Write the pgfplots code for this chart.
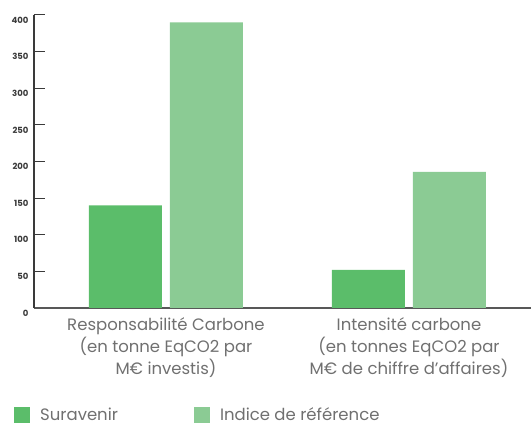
\documentclass[border=0pt]{standalone}
\usepackage{pgfplots}
\pgfplotsset{compat=1.18}
\usepackage{fontspec}
\setmainfont{Poppins}
\definecolor{sura}{HTML}{5BBD6A}
\definecolor{indice}{HTML}{8BCB94}
\definecolor{txt}{HTML}{707070}
\definecolor{axisc}{HTML}{3A3A3A}
\begin{document}
\begin{tikzpicture}[x=1pt,y=1pt]
\path[use as bounding box] (0,0) rectangle (531,428);
\begin{axis}[
  at={(34pt,120pt)}, anchor=south west,
  scale only axis, width=497pt, height=293pt,
  xmin=-0.543, xmax=1.502, ymin=0, ymax=400,
  axis x line*=bottom, axis y line*=left,
  x axis line style={-, draw=axisc!85, line width=1.6pt},
  y axis line style={-, draw=axisc, line width=1.2pt},
  ybar=8pt, bar width=73pt,
  ytick={0,50,...,400},
  /pgf/number format/assume math mode=true,
  tick align=inside, major tick length=11pt,
  ytick style={draw=axisc, line width=1pt},
  yticklabel style={font=\bfseries\fontsize{8.5}{9}\selectfont, text=axisc, yshift=-5pt, xshift=-2pt},
  xtick={0,1}, xtick style={draw=none},
  xticklabels={{Responsabilité Carbone\\(en tonne EqCO2 par\\M€ investis)},
               {Intensité carbone\\(en tonnes EqCO2 par\\M€ de chiffre d’affaires)}},
  xticklabel style={align=center, font=\fontsize{16.5}{22}\selectfont, text=txt, yshift=-6pt},
  legend columns=2,
  legend style={draw=none, at={(0,0)}, anchor=west, xshift=-20pt, yshift=-107pt,
    inner sep=0pt, font=\fontsize{16.5}{18}\selectfont, text=txt,
    /tikz/every odd column/.append style={column sep=8pt},
    /tikz/every even column/.append style={column sep=74pt}},
  legend image code/.code={\fill[#1,draw=none] (0pt,-8pt) rectangle (16pt,8pt);},
]
\addplot[fill=sura, draw=none] coordinates {(0,140) (1,52)};
\addplot[fill=indice, draw=none] coordinates {(0,390) (1,186)};
\legend{Suravenir, Indice de référence}
\end{axis}
\end{tikzpicture}
\end{document}
